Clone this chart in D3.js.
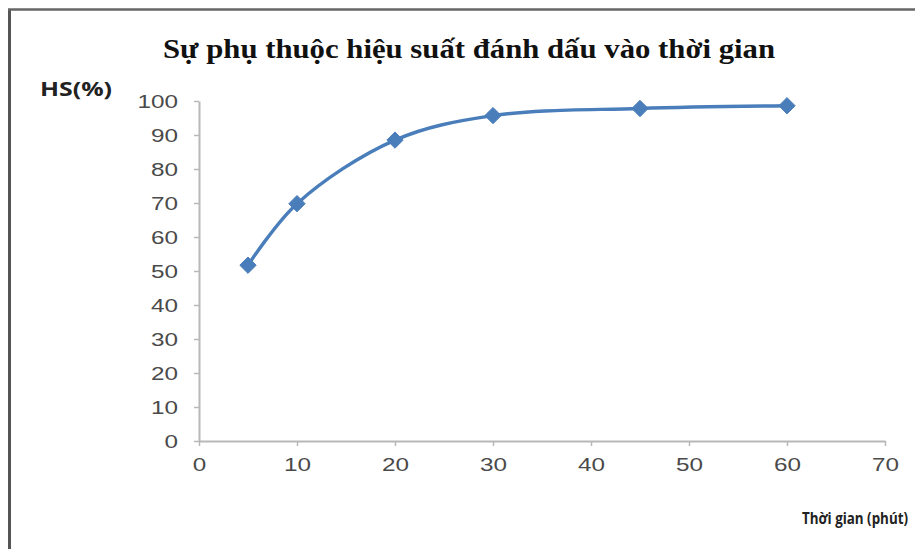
<!DOCTYPE html>
<html><head><meta charset="utf-8">
<script src="https://cdn.jsdelivr.net/npm/d3@7"></script>
<style>body{margin:0;background:#fff;overflow:hidden}</style>
</head><body>
<svg id="c" width="915" height="549"></svg>
<script>
const times = [5, 10, 20, 30, 45, 60];
const efficiency = [51.7, 69.8, 88.5, 95.7, 97.8, 98.6];
const xTicks = [0, 10, 20, 30, 40, 50, 60, 70];
const yTicks = [0, 10, 20, 30, 40, 50, 60, 70, 80, 90, 100];
const title = "Sự phụ thuộc hiệu suất đánh dấu vào thời gian";
const yLabel = "HS(%)";
const xLabel = "Thời gian (phút)";

const svg = d3.select("#c");
// frame
svg.append("line").attr("x1",9.5).attr("x2",9.5).attr("y1",9).attr("y2",549).attr("stroke","#555").attr("stroke-width",3);
svg.append("line").attr("x1",8).attr("x2",915).attr("y1",9.5).attr("y2",9.5).attr("stroke","#666").attr("stroke-width",2.5);

const x = d3.scaleLinear().domain([0,70]).range([199,885]);
const y = d3.scaleLinear().domain([0,100]).range([441,101]);

const axColor = "#b8b8b8";
const gx = svg.append("g").attr("transform","translate(0,441)")
  .call(d3.axisBottom(x).tickValues(xTicks).tickSize(5).tickPadding(12).tickSizeOuter(0));
const gy = svg.append("g").attr("transform","translate(199,0)")
  .call(d3.axisLeft(y).tickValues(yTicks).tickSize(5).tickPadding(16).tickSizeOuter(0));
[gx,gy].forEach(g=>{
  g.select(".domain").attr("stroke",axColor).attr("stroke-width",2);
  g.selectAll(".tick line").attr("stroke",axColor).attr("stroke-width",1.5);
  g.selectAll(".tick text").attr("fill","#4a4a4a").style("font-family","Liberation Sans, Arial, sans-serif").style("font-size","19px")
    .attr("textLength", d=>String(d).length*13.5).attr("lengthAdjust","spacingAndGlyphs");
});

const pts = times.map((t,i)=>[t, efficiency[i]]);
const line = d3.line().x(d=>x(d[0])).y(d=>y(d[1])).curve(d3.curveCatmullRom.alpha(0.5));
svg.append("path").attr("d", line(pts)).attr("fill","none").attr("stroke","#4a7ebb").attr("stroke-width",3.4);

svg.selectAll(".m").data(pts).enter().append("path")
  .attr("transform", d=>`translate(${x(d[0])},${y(d[1])})`)
  .attr("d", d3.symbol().type(d3.symbolDiamond2).size(170))
  .attr("fill","#4a7ebb").attr("stroke","#4a7ebb").attr("stroke-width",1);

svg.append("text").attr("x",163).attr("y",58)
  .style("font-family","Liberation Serif, Times New Roman, serif").style("font-weight","bold").style("font-size","28px")
  .attr("fill","#111").attr("textLength",612).attr("lengthAdjust","spacingAndGlyphs").text(title);
svg.append("text").attr("x",40).attr("y",96)
  .style("font-family","Open Sans, Liberation Sans, sans-serif").style("font-weight","bold").style("font-size","20px")
  .attr("fill","#222").attr("textLength",72).attr("lengthAdjust","spacingAndGlyphs").text(yLabel);
svg.append("text").attr("x",802).attr("y",524)
  .style("font-family","Open Sans, Liberation Sans, sans-serif").style("font-weight","bold").style("font-size","16px")
  .attr("fill","#222").attr("textLength",106).attr("lengthAdjust","spacingAndGlyphs").text(xLabel);
</script>
</body></html>
